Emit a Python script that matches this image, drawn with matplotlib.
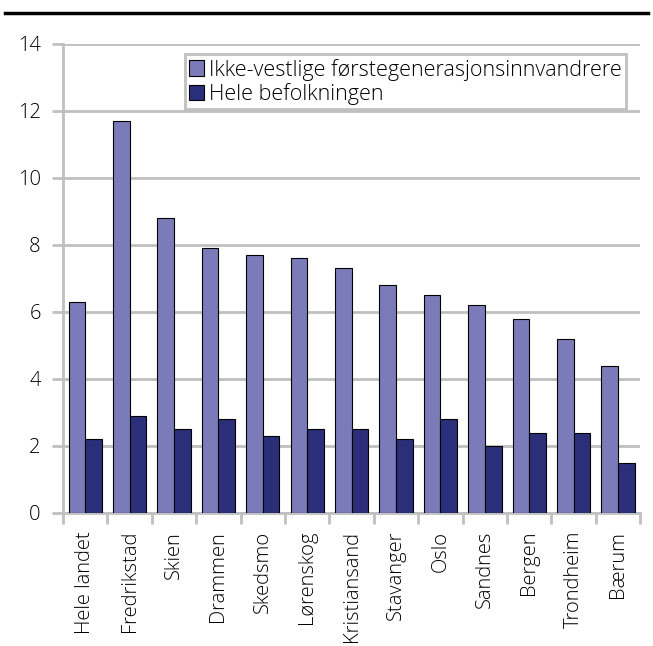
import matplotlib.pyplot as plt
import numpy as np
from matplotlib.lines import Line2D

plt.rcParams['font.family'] = ['Open Sans', 'DejaVu Sans']
plt.rcParams['font.size'] = 14.5
plt.rcParams['font.weight'] = 'light'

cities = ['Hele landet', 'Fredrikstad', 'Skien', 'Drammen', 'Skedsmo', 'Lørenskog',
          'Kristiansand', 'Stavanger', 'Oslo', 'Sandnes', 'Bergen', 'Trondheim', 'Bærum']
ikke_vestlige = [6.3, 11.7, 8.8, 7.9, 7.7, 7.6, 7.3, 6.8, 6.5, 6.2, 5.8, 5.2, 4.4]
hele_bef = [2.2, 2.9, 2.5, 2.8, 2.3, 2.5, 2.5, 2.2, 2.8, 2.0, 2.4, 2.4, 1.5]
labels = ['Ikke-vestlige førstegenerasjonsinnvandrere', 'Hele befolkningen']

grey = '#c0c0c0'
fig = plt.figure(figsize=(6.53, 6.46), dpi=100)
ax = fig.add_axes([0.0965, 0.206, 0.884, 0.726])

x = np.arange(len(cities))
w = 0.375
ax.bar(x - w / 2, ikke_vestlige, w, color='#7b7bba', edgecolor='black', linewidth=0.8,
       label=labels[0], zorder=3)
ax.bar(x + w / 2, hele_bef, w, color='#2b2f7a', edgecolor='black', linewidth=0.8,
       label=labels[1], zorder=3)

ax.set_ylim(0, 14)
ax.set_xlim(-0.5, len(cities) - 0.5)
ax.set_yticks(range(0, 15, 2))
ax.yaxis.grid(True, color=grey, linewidth=2, zorder=0)
ax.set_xticks(x)
ax.set_xticklabels(cities, rotation=90)
ax.set_xticks(np.arange(-0.5, len(cities)), minor=True)
ax.tick_params(axis='x', which='major', length=0, pad=13)
ax.tick_params(axis='x', which='minor', length=8, width=2, color=grey)
ax.tick_params(axis='y', length=8, width=2, color=grey, pad=8)
for s in ['top', 'right']:
    ax.spines[s].set_visible(False)
for s in ['left', 'bottom']:
    ax.spines[s].set_color(grey)
    ax.spines[s].set_linewidth(2)

leg = ax.legend(loc='upper right', bbox_to_anchor=(0.975, 0.978), fancybox=False,
                framealpha=1, edgecolor=grey, borderpad=0.2, handlelength=0.7,
                handleheight=0.7, handletextpad=0.2, labelspacing=0.1, borderaxespad=0,
                fontsize=15.5)
leg.get_frame().set_linewidth(2)

fig.add_artist(Line2D([0.008, 0.992], [0.98, 0.98], color='black', linewidth=2.5))

fig.savefig('out.png', dpi=100)
